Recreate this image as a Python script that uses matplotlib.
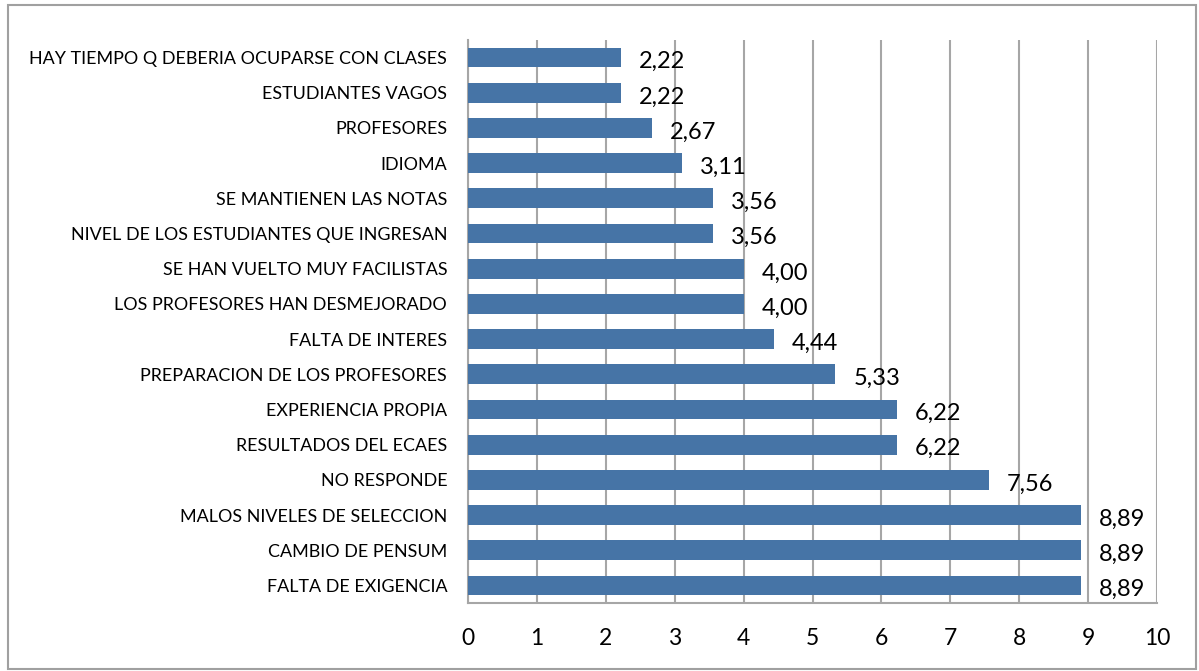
import matplotlib.pyplot as plt
from matplotlib.patches import Rectangle

plt.rcParams['font.family'] = ['Lato', 'DejaVu Sans']

# categorias de arriba hacia abajo
categorias = [
    "HAY TIEMPO Q DEBERIA OCUPARSE CON CLASES",
    "ESTUDIANTES VAGOS",
    "PROFESORES",
    "IDIOMA",
    "SE MANTIENEN LAS NOTAS",
    "NIVEL DE LOS ESTUDIANTES QUE INGRESAN",
    "SE HAN VUELTO MUY FACILISTAS",
    "LOS PROFESORES HAN DESMEJORADO",
    "FALTA DE INTERES",
    "PREPARACION DE LOS PROFESORES",
    "EXPERIENCIA PROPIA",
    "RESULTADOS DEL ECAES",
    "NO RESPONDE",
    "MALOS NIVELES DE SELECCION",
    "CAMBIO DE PENSUM",
    "FALTA DE EXIGENCIA",
]
porcentajes = [2.22, 2.22, 2.67, 3.11, 3.56, 3.56, 4.00, 4.00, 4.44, 5.33,
               6.22, 6.22, 7.56, 8.89, 8.89, 8.89]
ticks_x = list(range(0, 11))

fig = plt.figure(figsize=(11.99, 6.71), dpi=100)
ax = fig.add_axes([0.3903, 0.1013, 0.5747, 0.8391])

pos = list(range(len(categorias)))
barras = ax.barh(pos, porcentajes, height=0.56, color='#4674A6', zorder=3)

for b, v in zip(barras, porcentajes):
    ax.annotate(f"{v:.2f}".replace('.', ','),
                (b.get_width(), b.get_y() + b.get_height() / 2),
                xytext=(13, -3), textcoords='offset points',
                ha='left', va='center', fontsize=17, color='black')

ax.set_xlim(0, 10)
ax.set_ylim(len(categorias) - 0.5, -0.5)
ax.set_xticks(ticks_x)
ax.set_xticklabels([str(t) for t in ticks_x], fontsize=16.5)
ax.set_yticks(pos)
ax.set_yticklabels(categorias, fontsize=12.9)
ax.tick_params(axis='both', length=0)
ax.tick_params(axis='y', pad=15)
ax.tick_params(axis='x', pad=18)

ax.grid(axis='x', color='#a6a6a6', linewidth=1.5, zorder=0)
for s in ['top', 'right']:
    ax.spines[s].set_visible(False)
for s in ['left', 'bottom']:
    ax.spines[s].set_color('#a6a6a6')
    ax.spines[s].set_linewidth(1.5)

# marco exterior del grafico
fig.patches.append(Rectangle((8 / 1199, 2 / 671), 1188 / 1199, 664 / 671,
                             transform=fig.transFigure, fill=False,
                             edgecolor='#a0a0a0', linewidth=1.5))

fig.savefig('out.png', dpi=100)
